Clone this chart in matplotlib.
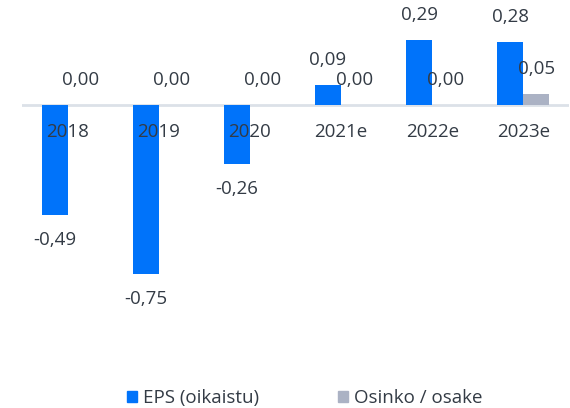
import matplotlib
matplotlib.use("Agg")
import matplotlib.pyplot as plt
from matplotlib.patches import Patch
import numpy as np

categories = ["2018", "2019", "2020", "2021e", "2022e", "2023e"]
eps = [-0.49, -0.75, -0.26, 0.09, 0.29, 0.28]
dividend = [0.00, 0.00, 0.00, 0.00, 0.00, 0.05]
series_names = ["EPS (oikaistu)", "Osinko / osake"]

blue = "#0073FA"
gray = "#ABB2C4"
text_c = "#333B45"

plt.rcParams['font.family'] = ['Open Sans', 'DejaVu Sans']
FS = 13.5

W, H = 570, 408
fig = plt.figure(figsize=(W/100, H/100), dpi=100)
# axes spans x 22..569 px, y 0..360 px
ax = fig.add_axes([22/W, (H-360)/H, (569-22)/W, 360/H])
scale = 225.0  # px per unit
top = 105/scale
bottom = -(360-105)/scale
ax.set_ylim(bottom, top)

x = np.arange(len(categories))
bw = 26/91
ax.set_xlim(-0.5, len(categories)-0.5)
ax.bar(x - bw/2, eps, width=bw, color=blue, zorder=2)
ax.bar(x + bw/2, dividend, width=bw, color=gray, zorder=2)
ax.axhline(0, color="#DCE1E8", lw=2, zorder=1)

def fmt(v):
    return f"{v:.2f}".replace(".", ",")

off = 25/scale
for i in range(len(categories)):
    v = eps[i]
    y = v + off if v >= 0 else v - off
    ax.text(x[i]-bw/2, y, fmt(v), ha="center", va="center", fontsize=FS, color=text_c, zorder=3)
    d = dividend[i]
    ax.text(x[i]+bw/2, d + off, fmt(d), ha="center", va="center", fontsize=FS, color=text_c, zorder=3)
    ax.text(x[i], -27/scale, categories[i], ha="center", va="center", fontsize=FS, color=text_c, zorder=3)

for s in ax.spines.values():
    s.set_visible(False)
ax.set_xticks([])
ax.set_yticks([])

handles = [Patch(color=blue), Patch(color=gray)]
fig.legend(handles, series_names, loc="center", bbox_to_anchor=(0.534, 1-398/H), ncol=2,
           frameon=False, fontsize=FS, handlelength=0.55, handleheight=0.55, handletextpad=0.3,
           columnspacing=4.2, labelcolor=text_c)

fig.savefig("out.png", dpi=100)
